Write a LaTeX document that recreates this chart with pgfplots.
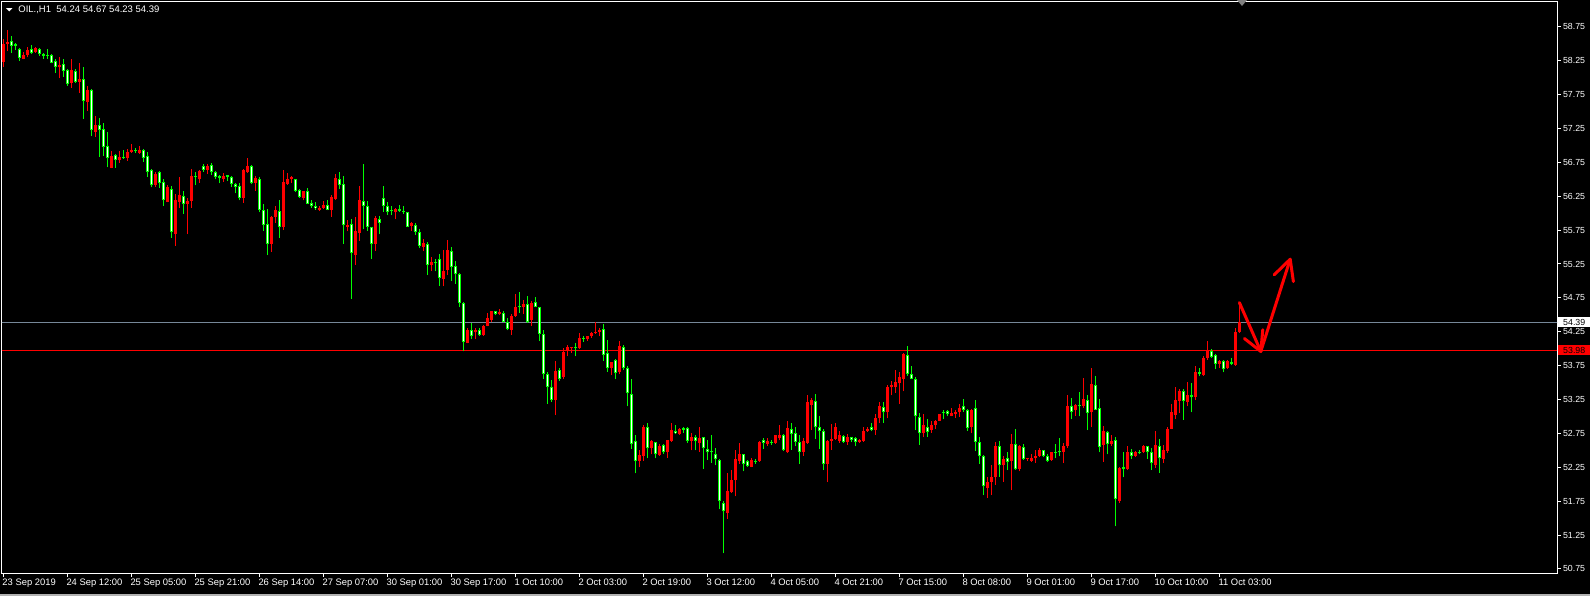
\documentclass[border=0pt]{standalone}
\usepackage{fontspec}
\setmainfont{Liberation Sans}
\usepackage{pgfplots}
\usepackage{pgfplotstable}
\pgfplotsset{compat=1.18}
\definecolor{upc}{HTML}{FF0000}
\definecolor{dnc}{HTML}{00FF00}
\definecolor{bidc}{HTML}{778899}

% OIL H1 candles, one row per hour: open high low close
\pgfplotstableread{
o h l c
58.23 58.57 58.16 58.50
58.49 58.70 58.39 58.53
58.54 58.61 58.36 58.47
58.49 58.51 58.41 58.46
58.42 58.44 58.25 58.29
58.28 58.38 58.27 58.34
58.34 58.45 58.30 58.41
58.42 58.48 58.35 58.37
58.38 58.45 58.37 58.43
58.42 58.43 58.32 58.35
58.35 58.37 58.28 58.32
58.33 58.42 58.28 58.32
58.33 58.35 58.21 58.22
58.24 58.28 58.07 58.16
58.16 58.30 57.99 58.19
58.20 58.27 58.01 58.10
58.11 58.12 57.88 57.90
57.92 58.27 57.85 58.11
58.10 58.13 57.92 57.94
57.94 58.21 57.77 57.98
57.98 58.16 57.39 57.66
57.64 57.87 57.51 57.81
57.82 57.83 57.14 57.22
57.20 57.43 57.12 57.30
57.30 57.40 56.83 57.23
57.24 57.33 56.85 56.98
56.99 57.20 56.68 56.82
56.67 56.91 56.66 56.84
56.86 56.87 56.67 56.79
56.78 56.91 56.74 56.83
56.83 56.93 56.80 56.81
56.82 56.95 56.77 56.90
56.90 57.02 56.89 56.93
56.93 56.96 56.89 56.91
56.89 56.99 56.87 56.93
56.93 56.94 56.76 56.82
56.84 56.90 56.54 56.61
56.64 56.65 56.38 56.41
56.41 56.60 56.39 56.58
56.60 56.62 56.37 56.45
56.46 56.51 56.11 56.19
56.17 56.42 56.16 56.38
56.36 56.40 55.64 55.72
55.69 56.28 55.52 56.19
56.17 56.54 56.08 56.27
56.25 56.32 55.99 56.14
56.14 56.23 55.69 56.18
56.18 56.65 56.08 56.55
56.55 56.61 56.41 56.53
56.50 56.63 56.45 56.62
56.69 56.72 56.61 56.64
56.64 56.72 56.58 56.70
56.71 56.74 56.57 56.61
56.61 56.62 56.50 56.54
56.55 56.56 56.44 56.52
56.51 56.59 56.46 56.55
56.56 56.57 56.48 56.54
56.53 56.55 56.39 56.43
56.43 56.45 56.29 56.39
56.40 56.45 56.19 56.22
56.23 56.65 56.15 56.64
56.60 56.82 56.59 56.70
56.69 56.71 56.43 56.45
56.45 56.55 56.33 56.52
56.50 56.53 56.01 56.05
56.05 56.14 55.74 55.83
55.84 56.06 55.38 55.55
55.55 55.96 55.43 55.95
55.95 56.10 55.86 56.04
56.03 56.19 55.64 55.80
55.80 56.64 55.75 56.46
56.43 56.59 56.42 56.50
56.50 56.55 56.45 56.54
56.50 56.51 56.31 56.33
56.34 56.35 56.23 56.24
56.23 56.33 56.19 56.32
56.33 56.37 56.13 56.14
56.15 56.20 56.08 56.11
56.11 56.17 56.05 56.07
56.05 56.11 56.03 56.08
56.07 56.18 56.06 56.12
56.12 56.19 56.04 56.05
56.05 56.27 55.95 56.24
56.21 56.58 56.20 56.52
56.51 56.60 56.36 56.41
56.43 56.55 55.55 55.82
55.80 55.90 55.73 55.83
55.84 55.92 54.73 55.41
55.38 55.94 55.24 55.74
55.71 56.40 55.59 56.19
56.18 56.73 55.76 56.11
56.11 56.18 55.74 55.80
55.79 55.80 55.32 55.55
55.55 55.96 55.44 55.93
55.92 55.96 55.69 55.86
56.22 56.40 56.02 56.11
56.11 56.17 55.97 56.02
56.05 56.10 55.97 56.03
56.01 56.07 55.91 56.06
56.06 56.12 56.02 56.03
56.03 56.11 55.99 56.02
56.01 56.02 55.79 55.80
55.81 55.87 55.74 55.85
55.82 55.86 55.68 55.72
55.72 55.76 55.48 55.52
55.50 55.62 55.44 55.56
55.55 55.58 55.09 55.24
55.24 55.36 55.15 55.28
55.28 55.33 55.14 55.26
55.33 55.40 54.93 55.05
55.03 55.45 54.92 55.15
55.16 55.60 55.09 55.46
55.44 55.50 55.00 55.21
55.22 55.30 54.96 55.10
55.10 55.12 54.61 54.68
54.67 54.69 53.96 54.10
54.09 54.30 54.08 54.28
54.28 54.38 54.15 54.18
54.24 54.30 54.14 54.27
54.28 54.30 54.19 54.20
54.20 54.35 54.19 54.34
54.34 54.52 54.33 54.46
54.42 54.56 54.39 54.55
54.55 54.56 54.49 54.51
54.51 54.59 54.49 54.54
54.53 54.56 54.39 54.40
54.39 54.45 54.27 54.29
54.28 54.51 54.20 54.48
54.48 54.81 54.47 54.61
54.63 54.83 54.53 54.61
54.61 54.72 54.51 54.66
54.66 54.78 54.38 54.40
54.42 54.71 54.34 54.68
54.69 54.76 54.61 54.62
54.61 54.62 54.11 54.22
54.22 54.28 53.56 53.63
53.63 53.65 53.19 53.44
53.43 53.54 53.21 53.24
53.24 53.82 53.02 53.67
53.69 53.71 53.53 53.56
53.58 54.01 53.55 53.95
53.98 54.05 53.89 54.02
54.01 54.03 53.94 54.02
54.02 54.09 53.89 54.01
54.01 54.23 54.00 54.16
54.16 54.19 54.10 54.15
54.14 54.19 54.11 54.18
54.19 54.24 54.16 54.23
54.23 54.40 54.22 54.25
54.25 54.30 54.18 54.28
54.29 54.36 53.82 53.91
53.93 54.13 53.66 53.71
53.71 53.81 53.61 53.80
53.84 53.85 53.55 53.64
53.66 54.12 53.62 54.04
54.02 54.05 53.68 53.72
53.72 53.75 53.15 53.34
53.33 53.55 52.52 52.60
52.64 52.73 52.16 52.34
52.34 52.51 52.25 52.43
52.41 52.88 52.35 52.84
52.84 52.91 52.38 52.53
52.53 52.65 52.44 52.64
52.62 52.63 52.38 52.44
52.43 52.60 52.42 52.57
52.58 52.59 52.45 52.47
52.47 52.66 52.39 52.65
52.64 52.90 52.63 52.80
52.79 52.88 52.74 52.75
52.74 52.83 52.73 52.81
52.83 52.84 52.76 52.80
52.83 52.84 52.61 52.64
52.64 52.75 52.50 52.69
52.70 52.72 52.50 52.64
52.61 52.84 52.48 52.68
52.69 52.70 52.23 52.53
52.52 52.65 52.36 52.47
52.49 52.73 52.32 52.47
52.44 52.53 52.28 52.37
52.36 52.37 51.63 51.75
51.73 51.75 50.98 51.60
51.58 52.16 51.49 51.90
51.88 52.21 51.87 52.06
52.06 52.51 51.82 52.37
52.34 52.61 52.30 52.45
52.44 52.45 52.19 52.30
52.35 52.36 52.26 52.27
52.26 52.38 52.25 52.36
52.35 52.37 52.30 52.34
52.34 52.64 52.33 52.63
52.65 52.68 52.52 52.61
52.60 52.68 52.57 52.64
52.63 52.66 52.58 52.62
52.61 52.73 52.60 52.72
52.68 52.88 52.65 52.73
52.73 52.74 52.49 52.50
52.47 52.93 52.46 52.83
52.81 52.90 52.51 52.74
52.75 52.85 52.56 52.63
52.62 52.72 52.30 52.47
52.48 52.68 52.42 52.64
52.61 53.32 52.60 53.21
53.17 53.27 52.80 53.24
53.23 53.33 52.67 52.84
52.84 53.01 52.52 52.78
52.79 52.81 52.21 52.30
52.30 52.65 52.03 52.64
52.64 52.89 52.51 52.67
52.67 52.90 52.66 52.85
52.64 52.79 52.61 52.72
52.71 52.72 52.61 52.62
52.62 52.74 52.58 52.70
52.69 52.70 52.62 52.65
52.68 52.70 52.56 52.62
52.62 52.67 52.61 52.66
52.64 52.85 52.63 52.79
52.78 52.85 52.77 52.82
52.84 52.91 52.78 52.80
52.80 53.03 52.73 52.98
52.97 53.22 52.90 53.16
53.14 53.22 52.91 53.06
53.06 53.47 52.97 53.44
53.43 53.53 53.31 53.46
53.43 53.69 53.35 53.51
53.49 53.65 53.19 53.58
53.55 53.94 53.37 53.92
53.91 54.04 53.60 53.63
53.62 53.75 53.55 53.56
53.55 53.58 52.80 53.00
52.99 53.05 52.58 52.75
52.75 53.04 52.69 52.87
52.85 52.96 52.70 52.77
52.80 52.93 52.76 52.88
52.87 52.95 52.82 52.94
52.94 53.04 52.93 53.03
53.07 53.10 52.96 53.06
53.08 53.10 53.00 53.03
53.01 53.12 53.00 53.05
53.03 53.10 52.98 53.07
53.06 53.19 52.99 53.12
53.16 53.26 53.07 53.09
53.10 53.11 52.79 52.83
52.84 53.11 52.75 53.10
53.12 53.24 52.49 52.63
52.62 52.69 52.30 52.41
52.42 52.43 51.84 51.97
51.95 52.11 51.80 52.03
52.04 52.29 51.84 52.10
52.10 52.63 51.99 52.57
52.57 52.64 52.11 52.28
52.28 52.42 52.04 52.37
52.38 52.48 52.21 52.33
52.34 52.74 51.91 52.59
52.59 52.82 52.21 52.22
52.23 52.58 52.19 52.57
52.55 52.60 52.36 52.37
52.37 52.39 52.34 52.38
52.35 52.45 52.33 52.38
52.38 52.51 52.31 52.42
52.42 52.53 52.40 52.50
52.50 52.51 52.40 52.41
52.42 52.45 52.33 52.35
52.36 52.48 52.35 52.47
52.48 52.60 52.38 52.47
52.49 52.68 52.41 52.47
52.48 52.61 52.31 52.56
52.56 53.32 52.54 53.15
53.15 53.27 52.96 53.07
53.09 53.18 53.01 53.17
53.17 53.36 53.00 53.15
53.15 53.57 53.12 53.26
53.24 53.32 52.80 53.05
53.06 53.71 52.84 53.48
53.47 53.59 53.09 53.10
53.12 53.26 52.47 52.55
52.58 52.86 52.33 52.79
52.77 52.79 52.44 52.59
52.59 52.73 52.57 52.64
52.65 52.70 51.38 51.78
51.75 52.26 51.72 52.24
52.25 52.48 52.10 52.22
52.23 52.57 52.21 52.47
52.47 52.52 52.37 52.41
52.42 52.49 52.40 52.48
52.48 52.50 52.44 52.46
52.47 52.58 52.46 52.57
52.56 52.57 52.37 52.47
52.48 52.53 52.21 52.31
52.29 52.79 52.24 52.58
52.57 52.67 52.17 52.38
52.37 52.58 52.31 52.51
52.49 52.85 52.46 52.82
52.82 53.18 52.81 53.06
53.02 53.43 52.96 53.24
53.23 53.41 53.05 53.38
53.38 53.40 52.95 53.23
53.22 53.51 53.15 53.32
53.31 53.50 53.06 53.28
53.28 53.75 53.24 53.65
53.66 53.72 53.59 53.63
53.61 53.89 53.60 53.87
53.87 54.11 53.84 53.98
53.96 54.00 53.87 53.88
53.91 53.92 53.70 53.78
53.78 53.84 53.72 53.82
53.82 53.83 53.65 53.70
53.71 53.84 53.70 53.82
53.81 53.86 53.76 53.78
53.76 54.30 53.75 54.24
54.24 54.67 54.23 54.39
}\candles

\begin{document}
\begin{tikzpicture}[font=\fontsize{4.4}{5}\selectfont]
\fill[black] (0,0) rectangle (795pt,-298pt);
\useasboundingbox (0,0) rectangle (795pt,-298pt);
\fill[gray!60] (0,-297.2pt) rectangle (795pt,-298pt);
\begin{axis}[
  at={(1pt,-0.5pt)}, anchor=north west,
  scale only axis, width=777.5pt, height=286pt,
  xmin=-0.325, xmax=388.4, ymin=50.69, ymax=59.13,
  axis line style={white, line width=0.5pt},
  tick style={white, line width=0.5pt},
  tick align=outside, major tick length=1.8pt,
  xtick pos=bottom, ytick pos=right, yticklabel pos=right,
  xtick={0,16,...,304},
  xticklabels={23 Sep 2019, 24 Sep 12:00, 25 Sep 05:00, 25 Sep 21:00, 26 Sep 14:00, 27 Sep 07:00, 30 Sep 01:00, 30 Sep 17:00, 1 Oct 10:00, 2 Oct 03:00, 2 Oct 19:00, 3 Oct 12:00, 4 Oct 05:00, 4 Oct 21:00, 7 Oct 15:00, 8 Oct 08:00, 9 Oct 01:00, 9 Oct 17:00, 10 Oct 10:00, 11 Oct 03:00},
  ytick={50.75,51.25,51.75,52.25,52.75,53.25,53.75,54.25,54.75,55.25,55.75,56.25,56.75,57.25,57.75,58.25,58.75},
  yticklabels={50.75,51.25,51.75,52.25,52.75,53.25,53.75,54.25,54.75,55.25,55.75,56.25,56.75,57.25,57.75,58.25,58.75},
  ticklabel style={text=white, inner sep=0pt},
  xticklabel style={anchor=north west, xshift=-0.6pt, yshift=-1.2pt, font=\fontsize{4.7}{5}\selectfont},
  yticklabel style={anchor=west, xshift=1pt},
  /pgf/number format/assume math mode=true,
]
% bid line and horizontal level
\addplot[bidc, line width=0.5pt, forget plot] coordinates {(-1,54.39) (390,54.39)};
\addplot[upc, line width=0.5pt, forget plot] coordinates {(-1,53.98) (390,53.98)};
% wicks
\addplot[draw=none, forget plot,
  restrict expr to domain={\thisrow{c}-\thisrow{o}}{0:100},
  error bars/.cd, y dir=plus, y explicit, error mark=none,
  error bar style={draw=upc, line width=0.5pt}]
  table[x expr=\coordindex, y=l, y error plus expr=\thisrow{h}-\thisrow{l}] {\candles};
\addplot[draw=none, forget plot,
  restrict expr to domain={\thisrow{o}-\thisrow{c}}{0.001:100},
  error bars/.cd, y dir=plus, y explicit, error mark=none,
  error bar style={draw=dnc, line width=0.5pt}]
  table[x expr=\coordindex, y=l, y error plus expr=\thisrow{h}-\thisrow{l}] {\candles};
% bodies
\addplot[draw=none, forget plot,
  restrict expr to domain={\thisrow{c}-\thisrow{o}}{0:100},
  error bars/.cd, y dir=plus, y explicit, error mark=none,
  error bar style={draw=upc, line width=1.5pt}]
  table[x expr=\coordindex, y=o, y error plus expr=\thisrow{c}-\thisrow{o}] {\candles};
\addplot[draw=none, forget plot,
  restrict expr to domain={\thisrow{o}-\thisrow{c}}{0.001:100},
  error bars/.cd, y dir=plus, y explicit, error mark=none,
  error bar style={draw=dnc, line width=1.5pt}]
  table[x expr=\coordindex, y=c, y error plus expr=\thisrow{o}-\thisrow{c}] {\candles};
\addplot[draw=none, forget plot,
  restrict expr to domain={\thisrow{o}-\thisrow{c}}{0.031:100},
  error bars/.cd, y dir=plus, y explicit, error mark=none,
  error bar style={draw=white, line width=0.5pt}]
  table[x expr=\coordindex, y expr=\thisrow{c}+0.0148, y error plus expr=\thisrow{o}-\thisrow{c}-0.0295] {\candles};
% hand-drawn arrow
\draw[upc, line width=1.5pt, line cap=round, line join=round]
  (axis cs:309,54.68) -- (axis cs:314.35,53.96) -- (axis cs:321.7,55.32);
\draw[upc, line width=1.5pt, line cap=round, line join=round]
  (axis cs:310.25,54.15) -- (axis cs:314.35,53.96) -- (axis cs:314.85,54.28);
\draw[upc, line width=1.5pt, line cap=round, line join=round]
  (axis cs:317.7,55.09) -- (axis cs:321.7,55.32) -- (axis cs:322.5,54.99);
\coordinate (bidlab) at (axis cs:388.4,54.39);
\coordinate (lvllab) at (axis cs:388.4,53.98);
\end{axis}
\node[fill=white, text=black, anchor=west, inner sep=0pt, minimum width=16.2pt, minimum height=5pt] at ([xshift=0.3pt]bidlab) {54.39};
\node[fill=upc, text=black, anchor=west, inner sep=0pt, minimum width=16.2pt, minimum height=5pt] at ([xshift=0.3pt]lvllab) {53.98};
% header
\fill[white] (3pt,-4.1pt) -- (6.2pt,-4.1pt) -- (4.6pt,-5.7pt) -- cycle;
\node[anchor=west, text=white, inner sep=0pt, font=\fontsize{4.75}{5}\selectfont] at (9pt,-4.7pt) {OIL.,H1\ \ 54.24 54.67 54.23 54.39};
\fill[gray] (618.5pt,0) -- (623.5pt,0) -- (621pt,-3pt) -- cycle;
\end{tikzpicture}
\end{document}
